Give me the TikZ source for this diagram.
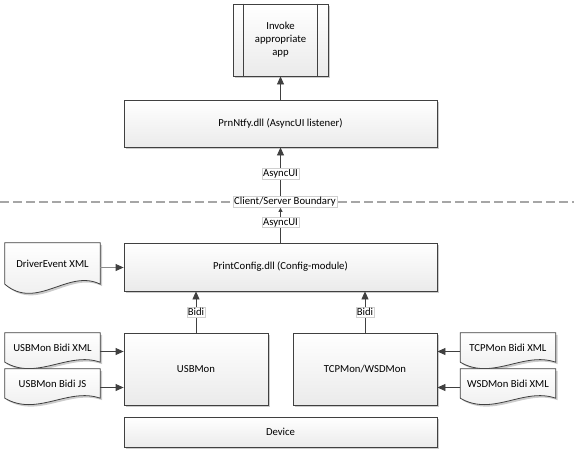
\documentclass[tikz,border=0pt]{standalone}
\usepackage{fontspec}
\setmainfont{Carlito}
\usetikzlibrary{arrows.meta,shadows,backgrounds}
\definecolor{edge}{HTML}{404040}
\definecolor{dashgray}{HTML}{A6A6A6}
\definecolor{tagline}{HTML}{D0D0D0}

\begin{document}
\begin{tikzpicture}[x=1pt,y=-1pt,
    font=\fontsize{10.7}{13}\selectfont,
    box/.style={draw=edge,line width=0.8pt,top color=white,bottom color=black!8,
        drop shadow={shadow xshift=2pt,shadow yshift=-2pt,fill=black!40,opacity=.5},
        inner sep=2pt,align=center},
    doc/.style={minimum width=95pt,minimum height=#1,inner sep=0pt},
    docline/.style={draw=edge,line width=0.8pt,top color=white,bottom color=black!8,
        drop shadow={shadow xshift=2pt,shadow yshift=-2pt,fill=black!40,opacity=.5}},
    tag/.style={draw=tagline,line width=0.5pt,fill=white,text=black,inner sep=1pt},
    conn/.style={draw=edge,line width=0.8pt,-{Triangle[length=8pt,width=7pt,color=edge]}}]
\useasboundingbox (0,0) rectangle (574,453);

% boxes
\node[box,minimum width=95pt,minimum height=72pt] (invoke) at (280.5,40) {Invoke\\appropriate\\app};
\draw[edge,line width=0.8pt] (invoke.north west) +(11,0) -- +(11,72)
    (invoke.north east) +(-11,0) -- +(-11,72);
\node[box,minimum width=313pt,minimum height=47pt] (prnntfy) at (280.5,123.5) {PrnNtfy.dll (AsyncUI listener)};
\node[box,minimum width=313pt,minimum height=48pt] (printcfg) at (280.5,267) {PrintConfig.dll (Config-module)};
\node[box,minimum width=144pt,minimum height=72pt] (usbmon) at (196,369) {USBMon};
\node[box,minimum width=144pt,minimum height=72pt] (tcpmon) at (365,369) {TCPMon/WSDMon};
\node[box,minimum width=313pt,minimum height=30pt] (device) at (280.5,432) {Device};

% documents
\node[doc=41pt] (drvxml) at (52.5,263.5) {DriverEvent XML};
\node[doc=29pt] (usbxml) at (52.5,347.5) {USBMon Bidi XML};
\node[doc=29pt] (usbjs) at (52.5,383.5) {USBMon Bidi JS};
\node[doc=29pt] (tcpxml) at (508,347.5) {TCPMon Bidi XML};
\node[doc=29pt] (wsdxml) at (508,383.5) {WSDMon Bidi XML};
\begin{scope}[on background layer]
\foreach \d/\a in {drvxml/1,usbxml/.7,usbjs/.7,tcpxml/.7,wsdxml/.7}
    \draw[docline] (\d.south west) -- (\d.north west) -- (\d.north east) -- (\d.south east)
        .. controls +(-32,-16*\a) and +(32,27*\a) .. (\d.south west) -- cycle;
\end{scope}

% boundary
\coordinate (bleft) at (0,202);
\coordinate (bright) at (574,202);
\draw[dashgray,line width=2pt,dash pattern=on 9pt off 4pt] (bleft) -- (bright);
\node[tag] (boundary) at (285,202) {Client/Server Boundary};

% connectors
\draw[conn] (prnntfy.north) -- (invoke.south);
\draw[conn] (boundary.north -| prnntfy.south) -- node[tag,pos=.46] {AsyncUI} (prnntfy.south);
\draw[conn,-{Triangle[length=4pt,width=4pt,color=edge]}] (printcfg.north)
    -- node[tag,pos=.58] {AsyncUI} (printcfg.north |- boundary.south);
\draw[conn] (usbmon.north) -- node[tag] {Bidi} (usbmon.north |- printcfg.south);
\draw[conn] (tcpmon.north) -- node[tag] {Bidi} (tcpmon.north |- printcfg.south);
\draw[conn,draw=black!45] ([yshift=-4pt]drvxml.east) -- ([yshift=-4pt]drvxml.east -| printcfg.west);
\draw[conn] ([yshift=-4pt]usbxml.east) -- ([yshift=-4pt]usbxml.east -| usbmon.west);
\draw[conn] ([yshift=-4pt]usbjs.east) -- ([yshift=-4pt]usbjs.east -| usbmon.west);
\draw[conn] ([yshift=-4pt]tcpxml.west) -- ([yshift=-4pt]tcpxml.west -| tcpmon.east);
\draw[conn] ([yshift=-4pt]wsdxml.west) -- ([yshift=-4pt]wsdxml.west -| tcpmon.east);
\end{tikzpicture}
\end{document}
